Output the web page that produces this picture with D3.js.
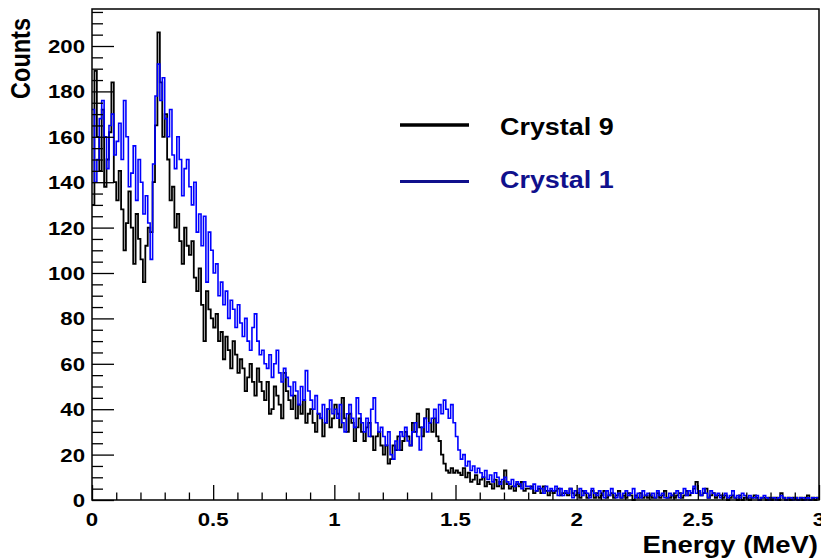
<!DOCTYPE html>
<html>
<head>
<meta charset="utf-8">
<script src="https://cdn.jsdelivr.net/npm/d3@7"></script>
<style>
  html, body { margin: 0; padding: 0; background: #fff; }
  svg { display: block; }
  text { font-family: "Liberation Sans", Arial, Helvetica, sans-serif; font-weight: bold; }
</style>
</head>
<body>
<svg id="chart" width="821" height="559"></svg>
<script>
// Energy spectra, 300 bins of 0.01 MeV from 0 to 3 MeV
const binWidth = 0.01;
const energyRange = [0, 3];

// Crystal 9 counts per bin
const crystal9 = [
  130,189,160,145,172,138,150,162,184,140,
  132,145,128,110,122,136,120,104,126,115,
  106,96,112,120,118,140,165,206,184,160,
  170,150,132,138,120,126,114,104,120,112,
  108,114,98,92,102,86,70,92,84,80,
  76,82,70,74,62,72,66,58,70,64,
  56,62,58,48,54,60,52,46,58,52,
  48,44,52,38,40,50,46,42,36,56,
  48,44,40,46,36,42,38,44,34,38,
  40,34,30,38,36,28,34,40,32,36,
  42,38,32,45,36,30,38,34,26,32,
  36,30,26,32,34,28,22,28,30,24,
  20,24,16,18,24,22,28,22,26,30,
  28,24,34,30,38,32,28,36,40,34,
  30,36,28,26,20,16,13,12,14,12,
  13,12,11,14,10,12,8,9,11,7,
  9,10,6,8,7,5,9,6,8,5,
  13,7,5,6,4,7,6,8,4,5,
  5,6,3,4,5,3,6,4,2,4,
  3,4,5,2,3,3,2,5,3,2,
  3,1,4,3,1,2,4,1,3,1,
  2,4,1,2,3,1,2,4,1,2,
  1,3,2,0,2,1,3,1,2,1,
  2,1,1,3,1,2,4,1,1,2,
  1,2,3,1,2,4,2,3,5,8,
  4,2,3,5,1,2,3,1,2,2,
  1,2,0,1,2,1,0,2,0,1,
  1,0,1,2,1,0,1,1,0,1,
  0,1,1,0,3,1,0,1,0,1,
  1,0,1,0,1,2,0,1,0,1
];

// Crystal 1 counts per bin
const crystal1 = [
  172,140,150,168,176,160,146,165,170,152,
  158,166,150,176,160,138,144,156,132,150,
  140,126,134,122,106,148,178,192,176,186,
  168,160,172,152,146,160,150,134,146,150,
  138,130,140,118,126,112,125,96,118,110,
  100,104,90,96,86,92,80,88,84,76,
  86,78,72,80,70,66,76,82,70,64,
  66,60,58,64,54,60,66,56,52,58,
  54,50,46,52,48,42,50,44,57,48,
  44,40,46,38,36,42,34,40,44,38,
  40,36,42,34,30,38,42,36,32,45,
  38,34,30,36,28,40,45,34,30,32,
  28,24,30,20,18,26,22,30,28,32,
  26,24,30,34,28,22,32,36,30,34,
  36,40,34,42,38,44,40,36,42,34,
  28,22,18,20,15,17,13,15,12,14,
  12,10,13,9,11,8,12,10,7,9,
  10,8,7,9,6,8,7,5,8,6,
  6,5,7,4,6,5,3,6,4,5,
  4,6,2,5,2,4,3,5,1,4,
  3,5,2,4,3,1,5,3,2,4,
  3,1,4,2,5,3,1,3,1,3,
  4,2,3,5,1,3,1,4,2,3,
  2,3,1,4,2,3,1,1,3,2,
  3,4,1,3,5,2,4,3,6,3,
  4,2,5,3,1,4,3,2,3,1,
  2,3,1,2,4,1,2,1,3,2,
  1,2,1,1,2,0,1,2,1,0,
  1,1,0,1,2,1,0,1,1,0,
  1,0,1,1,0,1,0,1,1,1
];

const seriesNames = ["Crystal 9", "Crystal 1"];
const yTickValues = [0, 20, 40, 60, 80, 100, 120, 140, 160, 180, 200];
const xTickValues = [0, 0.5, 1, 1.5, 2, 2.5, 3];
const xTickLabels = ["0", "0.5", "1", "1.5", "2", "2.5", "3"];
const yMax = 216.3;

// Layout
const frame = { left: 92, right: 819, top: 9, bottom: 500 };
const stretch = 1.17;  // horizontal text aspect

const svg = d3.select("#chart");

const x = d3.scaleLinear().domain(energyRange).range([frame.left, frame.right]);
const y = d3.scaleLinear().domain([0, yMax]).range([frame.bottom, frame.top]);

// Histogram step paths
function stepPoints(values) {
  const pts = values.map((v, i) => [i * binWidth, v]);
  pts.push([values.length * binWidth, values[values.length - 1]]);
  return pts;
}
const line = d3.line()
  .x(d => x(d[0]))
  .y(d => y(d[1]))
  .curve(d3.curveStepAfter);

const plot = svg.append("g");
plot.append("path")
  .datum(stepPoints(crystal9))
  .attr("d", line)
  .attr("fill", "none")
  .attr("stroke", "#000")
  .attr("stroke-width", 1.8);
plot.append("path")
  .datum(stepPoints(crystal1))
  .attr("d", line)
  .attr("fill", "none")
  .attr("stroke", "#0000ff")
  .attr("stroke-width", 1.6);

// Axis ticks (inside the frame)
const yMinor = d3.range(0, yMax, 5).filter(v => v % 20 !== 0);
const xMinor = d3.range(0, 31).map(i => i / 10).filter(v => Math.abs(v * 2 - Math.round(v * 2)) > 1e-6);

function styleAxis(g) {
  g.select(".domain").remove();
  g.selectAll("line").attr("stroke", "#000").attr("stroke-width", 1.3);
}

svg.append("g").attr("transform", `translate(${frame.left},0)`)
  .call(d3.axisLeft(y).tickValues(yTickValues).tickSize(-22).tickFormat(""))
  .call(styleAxis);
svg.append("g").attr("transform", `translate(${frame.left},0)`)
  .call(d3.axisLeft(y).tickValues(yMinor).tickSize(-11).tickFormat(""))
  .call(styleAxis);
svg.append("g").attr("transform", `translate(0,${frame.bottom})`)
  .call(d3.axisBottom(x).tickValues(xTickValues).tickSize(-15).tickFormat(""))
  .call(styleAxis);
svg.append("g").attr("transform", `translate(0,${frame.bottom})`)
  .call(d3.axisBottom(x).tickValues(xMinor).tickSize(-7.5).tickFormat(""))
  .call(styleAxis);

// Frame
svg.append("rect")
  .attr("x", frame.left).attr("y", frame.top)
  .attr("width", frame.right - frame.left).attr("height", frame.bottom - frame.top)
  .attr("fill", "none").attr("stroke", "#000").attr("stroke-width", 1.5);

// Tick labels
svg.append("g").selectAll("text")
  .data(yTickValues)
  .join("text")
  .attr("transform", d => `translate(85,${y(d) + 7}) scale(${stretch},1)`)
  .attr("text-anchor", "end")
  .attr("font-size", 19)
  .attr("fill", "#000")
  .text(d => d);

svg.append("g").selectAll("text")
  .data(xTickValues)
  .join("text")
  .attr("transform", d => `translate(${x(d)},526) scale(${stretch},1)`)
  .attr("text-anchor", "middle")
  .attr("font-size", 19)
  .attr("fill", "#000")
  .text((d, i) => xTickLabels[i]);

// Axis titles
svg.append("text")
  .attr("transform", `translate(818,553) scale(${stretch},1)`)
  .attr("text-anchor", "end")
  .attr("font-size", 23.5)
  .text("Energy (MeV)");
svg.append("text")
  .attr("transform", `translate(30,18) scale(${stretch},1) rotate(-90)`)
  .attr("text-anchor", "end")
  .attr("font-size", 23.5)
  .text("Counts");

// Legend
const legend = [
  { name: seriesNames[0], color: "#000", y: 125, w: 3.5, ty: 135 },
  { name: seriesNames[1], color: "#10108c", y: 181.5, w: 3, ty: 188 }
];
const lg = svg.append("g");
lg.selectAll("line")
  .data(legend)
  .join("line")
  .attr("x1", 400).attr("x2", 469)
  .attr("y1", d => d.y).attr("y2", d => d.y)
  .attr("stroke", d => d.color)
  .attr("stroke-width", d => d.w);
lg.selectAll("text")
  .data(legend)
  .join("text")
  .attr("transform", d => `translate(500,${d.ty}) scale(${stretch},1)`)
  .attr("font-size", 23)
  .attr("fill", d => d.color)
  .text(d => d.name);
</script>
</body>
</html>
